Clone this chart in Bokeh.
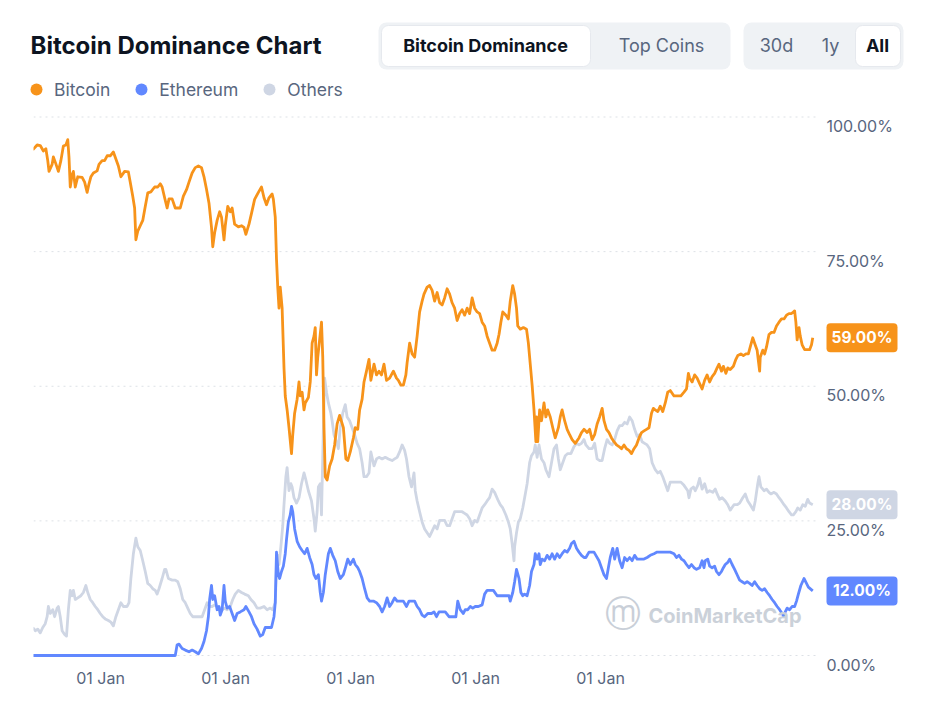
from bokeh.plotting import figure
from bokeh.models import (Range1d, FixedTicker, CustomJSTickFormatter, Label,
                          Legend, LegendItem)
from bokeh.core.properties import value
from bokeh.embed import file_html
from bokeh.resources import INLINE

# ---------------- data (decimal years, dominance in %) ----------------
btc_dates = [
    2013.30, 2013.37, 2013.42, 2013.47, 2013.51, 2013.54, 2013.56, 2013.61, 2013.63, 2013.67,
    2013.71, 2013.75, 2013.79, 2013.83, 2013.86, 2013.88, 2013.90, 2013.93, 2013.95, 2013.98,
    2014.02, 2014.09, 2014.13, 2014.17, 2014.20, 2014.23, 2014.27, 2014.33, 2014.36, 2014.41,
    2014.45, 2014.49, 2014.54, 2014.59, 2014.63, 2014.67, 2014.71, 2014.77, 2014.83, 2014.86,
    2014.90, 2014.93, 2014.95, 2014.98, 2015.02, 2015.06, 2015.10, 2015.14, 2015.19, 2015.25,
    2015.30, 2015.34, 2015.37, 2015.41, 2015.45, 2015.48, 2015.53, 2015.58, 2015.66, 2015.71,
    2015.76, 2015.80, 2015.85, 2015.90, 2015.95, 2016.00, 2016.04, 2016.08, 2016.12, 2016.16,
    2016.18, 2016.21, 2016.25, 2016.29, 2016.32, 2016.36, 2016.38, 2016.42, 2016.46, 2016.49,
    2016.53, 2016.59, 2016.64, 2016.68, 2016.71, 2016.76, 2016.80, 2016.85, 2016.91, 2016.96,
    2017.00, 2017.04, 2017.08, 2017.13, 2017.15, 2017.18, 2017.20, 2017.22, 2017.24, 2017.26,
    2017.29, 2017.32, 2017.34, 2017.37, 2017.40, 2017.44, 2017.46, 2017.49, 2017.53, 2017.56,
    2017.58, 2017.61, 2017.64, 2017.66, 2017.71, 2017.74, 2017.77, 2017.80, 2017.82, 2017.84,
    2017.86, 2017.89, 2017.92, 2017.94, 2017.96, 2017.98, 2018.01, 2018.05, 2018.09, 2018.13,
    2018.17, 2018.21, 2018.27, 2018.31, 2018.34, 2018.38, 2018.43, 2018.46, 2018.50, 2018.53,
    2018.57, 2018.60, 2018.64, 2018.68, 2018.71, 2018.76, 2018.80, 2018.84, 2018.88, 2018.92,
    2018.96, 2019.01, 2019.07, 2019.12, 2019.15, 2019.19, 2019.23, 2019.27, 2019.29, 2019.33,
    2019.37, 2019.41, 2019.45, 2019.49, 2019.53, 2019.56, 2019.61, 2019.65, 2019.69, 2019.73,
    2019.77, 2019.81, 2019.85, 2019.89, 2019.93, 2019.97, 2020.01, 2020.05, 2020.09, 2020.13,
    2020.17, 2020.21, 2020.25, 2020.29, 2020.33, 2020.37, 2020.41, 2020.45, 2020.49, 2020.53,
    2020.57, 2020.61, 2020.65, 2020.69, 2020.73, 2020.76, 2020.79, 2020.82, 2020.87, 2020.91,
    2020.94, 2020.98, 2021.01, 2021.04, 2021.06, 2021.10, 2021.15, 2021.20, 2021.23, 2021.26,
    2021.29, 2021.32, 2021.35, 2021.36, 2021.38, 2021.41, 2021.44, 2021.48, 2021.51, 2021.54,
    2021.58, 2021.62, 2021.66, 2021.71, 2021.74, 2021.77, 2021.81, 2021.85, 2021.89, 2021.93,
    2021.98, 2022.04, 2022.08, 2022.12, 2022.17, 2022.21, 2022.25, 2022.29, 2022.33, 2022.37,
    2022.41, 2022.44, 2022.48, 2022.52, 2022.56, 2022.60, 2022.64, 2022.68, 2022.72, 2022.76,
    2022.80, 2022.84, 2022.88, 2022.92, 2022.96, 2023.00, 2023.04, 2023.08, 2023.12, 2023.16,
    2023.20, 2023.23, 2023.26, 2023.30, 2023.34, 2023.38, 2023.42, 2023.46, 2023.50, 2023.56,
    2023.61, 2023.67, 2023.72, 2023.76, 2023.79, 2023.81, 2023.85, 2023.89, 2023.93, 2023.97,
    2024.01, 2024.05, 2024.09, 2024.13, 2024.17, 2024.21, 2024.25, 2024.28, 2024.32, 2024.35,
    2024.39, 2024.42, 2024.46, 2024.51, 2024.55, 2024.58, 2024.63, 2024.67, 2024.71, 2024.75,
    2024.78, 2024.82, 2024.85, 2024.89, 2024.91, 2024.93, 2024.94, 2024.98, 2025.01, 2025.04,
    2025.08, 2025.12, 2025.16, 2025.20, 2025.24, 2025.28, 2025.32, 2025.36, 2025.40, 2025.44,
    2025.47, 2025.49, 2025.51, 2025.53, 2025.56, 2025.58, 2025.61, 2025.65, 2025.69, 2025.73,
    2025.76, 2025.78,
]
btc_values = [
    93.9, 94.8, 94.7, 93.7, 94.1, 91.9, 89.9, 91.2, 92.6, 91.3,
    89.9, 91.9, 94.6, 94.8, 95.8, 92.5, 87.0, 89.3, 89.9, 87.0,
    88.9, 88.8, 87.9, 86.0, 87.6, 88.9, 89.6, 90.0, 91.2, 91.9,
    91.9, 92.8, 92.8, 93.5, 92.2, 90.9, 88.9, 89.9, 89.8, 87.9,
    85.3, 83.1, 77.2, 78.8, 79.8, 80.8, 83.4, 85.9, 86.1, 87.0,
    87.0, 87.6, 87.0, 85.0, 83.1, 84.8, 84.8, 83.1, 83.1, 85.3,
    86.5, 87.9, 89.6, 90.6, 90.9, 90.6, 88.9, 86.6, 84.0, 79.5,
    75.9, 78.5, 80.8, 82.4, 81.4, 77.2, 79.8, 83.4, 82.4, 83.1,
    80.1, 79.6, 79.8, 79.5, 78.2, 80.1, 82.1, 84.7, 86.0, 87.0,
    85.0, 83.7, 85.0, 85.7, 84.7, 81.4, 73.6, 68.4, 64.5, 68.4,
    64.5, 53.4, 48.2, 45.6, 42.3, 37.5, 41.0, 45.0, 47.6, 50.8,
    48.2, 48.9, 45.6, 46.9, 47.9, 50.8, 58.0, 59.3, 60.9, 52.1,
    55.4, 58.6, 61.9, 55.4, 42.3, 33.2, 32.6, 35.2, 36.5, 39.1,
    43.0, 44.6, 42.3, 36.5, 36.2, 37.8, 40.4, 42.3, 42.0, 45.6,
    47.6, 50.8, 52.8, 55.0, 51.1, 54.1, 52.1, 52.8, 52.1, 54.1,
    51.1, 51.5, 52.8, 51.5, 51.1, 50.2, 50.2, 52.1, 54.4, 58.0,
    56.0, 55.4, 59.3, 63.8, 65.8, 67.1, 68.4, 68.7, 67.8, 65.8,
    67.4, 65.5, 65.1, 66.4, 68.1, 67.1, 65.5, 64.5, 62.2, 63.5,
    64.2, 63.2, 64.5, 63.5, 66.4, 64.5, 63.8, 63.5, 61.9, 61.2,
    59.3, 58.0, 56.7, 56.7, 58.0, 59.6, 61.9, 63.8, 63.2, 62.5,
    65.8, 68.7, 67.1, 64.5, 61.2, 60.6, 60.9, 60.6, 58.0, 54.1,
    50.2, 45.6, 39.7, 44.3, 39.7, 45.6, 43.6, 46.9, 44.3, 45.6,
    44.3, 42.3, 40.4, 42.3, 44.3, 45.6, 43.6, 42.0, 41.0, 40.1,
    39.4, 40.4, 41.4, 42.0, 41.4, 42.0, 40.1, 41.0, 43.0, 44.3,
    45.9, 43.6, 42.0, 41.4, 40.4, 39.7, 39.1, 38.8, 38.4, 39.1,
    38.4, 38.1, 37.5, 38.4, 39.1, 40.4, 41.4, 41.7, 42.0, 42.3,
    45.0, 45.9, 45.6, 45.3, 46.3, 45.3, 46.9, 48.9, 49.2, 48.2,
    48.2, 48.2, 48.9, 49.5, 52.4, 51.5, 50.8, 52.1, 51.5, 50.5,
    49.5, 51.1, 52.1, 50.8, 51.8, 52.4, 53.4, 54.1, 52.8, 53.7,
    52.4, 53.4, 53.1, 53.7, 55.0, 55.7, 56.0, 55.7, 56.0, 56.0,
    57.3, 59.0, 58.0, 56.7, 54.7, 52.8, 55.4, 56.7, 56.0, 57.3,
    59.6, 60.0, 60.0, 61.2, 61.9, 62.5, 62.5, 63.2, 63.5, 63.5,
    63.8, 64.0, 61.9, 58.6, 60.9, 59.3, 57.7, 56.8, 56.8, 56.8,
    57.7, 59.0,
]

eth_dates = [
    2013.30, 2015.58, 2015.61, 2015.64, 2015.69, 2015.74, 2015.80, 2015.85, 2015.90, 2015.95,
    2016.00, 2016.04, 2016.08, 2016.11, 2016.13, 2016.16, 2016.18, 2016.21, 2016.23, 2016.25,
    2016.28, 2016.30, 2016.33, 2016.36, 2016.38, 2016.41, 2016.45, 2016.49, 2016.53, 2016.57,
    2016.62, 2016.68, 2016.71, 2016.76, 2016.80, 2016.84, 2016.89, 2016.94, 2016.98, 2017.02,
    2017.08, 2017.12, 2017.16, 2017.18, 2017.20, 2017.23, 2017.25, 2017.28, 2017.31, 2017.34,
    2017.36, 2017.39, 2017.42, 2017.44, 2017.46, 2017.49, 2017.53, 2017.57, 2017.61, 2017.65,
    2017.69, 2017.73, 2017.77, 2017.80, 2017.83, 2017.87, 2017.90, 2017.92, 2017.95, 2017.98,
    2018.03, 2018.06, 2018.10, 2018.14, 2018.18, 2018.22, 2018.27, 2018.31, 2018.34, 2018.38,
    2018.43, 2018.46, 2018.50, 2018.53, 2018.57, 2018.61, 2018.65, 2018.69, 2018.75, 2018.80,
    2018.85, 2018.89, 2018.93, 2018.97, 2019.01, 2019.05, 2019.09, 2019.13, 2019.18, 2019.23,
    2019.28, 2019.32, 2019.37, 2019.41, 2019.45, 2019.49, 2019.53, 2019.57, 2019.62, 2019.68,
    2019.72, 2019.76, 2019.80, 2019.85, 2019.90, 2019.96, 2020.01, 2020.07, 2020.10, 2020.14,
    2020.19, 2020.22, 2020.26, 2020.30, 2020.34, 2020.38, 2020.43, 2020.49, 2020.53, 2020.57,
    2020.62, 2020.67, 2020.73, 2020.76, 2020.81, 2020.86, 2020.92, 2020.94, 2020.98, 2021.01,
    2021.04, 2021.08, 2021.11, 2021.14, 2021.17, 2021.21, 2021.25, 2021.28, 2021.32, 2021.34,
    2021.37, 2021.40, 2021.42, 2021.45, 2021.49, 2021.53, 2021.57, 2021.61, 2021.65, 2021.69,
    2021.73, 2021.77, 2021.81, 2021.85, 2021.89, 2021.92, 2021.96, 2022.00, 2022.04, 2022.08,
    2022.12, 2022.15, 2022.20, 2022.24, 2022.28, 2022.31, 2022.36, 2022.40, 2022.44, 2022.48,
    2022.51, 2022.54, 2022.58, 2022.61, 2022.65, 2022.69, 2022.73, 2022.77, 2022.81, 2022.85,
    2022.89, 2022.93, 2022.97, 2023.02, 2023.08, 2023.13, 2023.18, 2023.24, 2023.29, 2023.34,
    2023.40, 2023.45, 2023.50, 2023.56, 2023.60, 2023.64, 2023.68, 2023.72, 2023.76, 2023.80,
    2023.84, 2023.88, 2023.92, 2023.97, 2024.01, 2024.04, 2024.06, 2024.10, 2024.13, 2024.17,
    2024.21, 2024.24, 2024.28, 2024.32, 2024.35, 2024.38, 2024.42, 2024.45, 2024.49, 2024.53,
    2024.57, 2024.61, 2024.65, 2024.69, 2024.73, 2024.77, 2024.81, 2024.85, 2024.89, 2024.93,
    2024.97, 2025.01, 2025.05, 2025.09, 2025.13, 2025.17, 2025.21, 2025.25, 2025.29, 2025.32,
    2025.34, 2025.37, 2025.41, 2025.45, 2025.49, 2025.52, 2025.55, 2025.59, 2025.64, 2025.68,
    2025.71, 2025.78,
]
eth_values = [
    0.0, 0.0, 2.0, 2.1, 1.3, 1.0, 0.7, 1.0, 0.7, 0.3,
    1.3, 2.6, 4.6, 7.2, 10.4, 13.0, 10.4, 11.1, 9.8, 8.5,
    9.1, 7.5, 8.5, 13.0, 10.1, 8.8, 9.1, 7.8, 6.5, 7.8,
    8.1, 8.5, 9.1, 8.1, 7.2, 5.9, 4.9, 3.6, 3.9, 5.2,
    5.2, 5.2, 7.2, 9.8, 19.2, 15.0, 14.3, 15.6, 16.6, 18.9,
    21.5, 24.8, 26.1, 27.7, 26.7, 23.5, 21.2, 20.2, 19.5, 18.9,
    19.9, 18.2, 16.9, 15.0, 14.3, 15.0, 11.7, 10.1, 11.7, 15.0,
    18.9, 19.9, 18.6, 17.6, 15.6, 14.3, 15.0, 16.6, 17.9, 16.9,
    17.9, 16.9, 16.3, 15.6, 14.3, 12.4, 10.7, 10.1, 10.1, 9.8,
    9.1, 8.1, 9.1, 10.7, 9.1, 9.8, 10.7, 10.1, 10.1, 10.1,
    9.1, 10.1, 10.1, 10.1, 9.1, 8.5, 7.5, 7.2, 7.8, 7.8,
    8.1, 7.2, 8.1, 8.1, 8.1, 7.2, 7.2, 7.2, 10.1, 8.5,
    7.8, 8.5, 8.5, 9.1, 8.8, 9.1, 9.1, 9.4, 11.4, 12.1,
    12.1, 12.1, 11.1, 11.1, 11.1, 11.1, 11.1, 10.1, 11.7, 13.7,
    16.0, 14.3, 11.7, 11.1, 11.4, 11.1, 13.0, 15.6, 16.9, 18.9,
    17.9, 18.9, 16.9, 17.9, 17.6, 18.6, 17.9, 18.9, 17.9, 18.9,
    18.2, 18.9, 19.5, 19.2, 19.9, 20.8, 21.2, 19.9, 19.2, 18.6,
    18.2, 18.2, 19.2, 19.2, 19.2, 18.6, 17.6, 16.3, 15.0, 14.3,
    16.3, 18.2, 19.9, 17.9, 19.9, 17.6, 16.3, 18.2, 17.6, 18.2,
    17.6, 18.6, 17.9, 17.9, 17.9, 18.2, 18.6, 18.9, 19.2, 19.2,
    19.2, 19.2, 19.2, 18.9, 18.2, 18.6, 17.9, 17.6, 16.9, 16.3,
    16.9, 16.3, 16.0, 16.3, 17.6, 16.3, 17.6, 17.9, 16.6, 16.3,
    16.6, 15.6, 15.0, 15.6, 16.3, 16.9, 17.3, 17.9, 16.9, 16.0,
    15.0, 14.0, 13.7, 13.4, 13.7, 13.4, 13.0, 13.7, 13.0, 12.4,
    12.1, 12.4, 11.7, 11.1, 10.4, 9.8, 9.1, 8.5, 7.8, 7.2,
    8.1, 8.8, 8.5, 9.1, 9.1, 10.1, 11.4, 13.0, 14.3, 13.4,
    12.7, 12.0,
]

others_dates = [
    2013.30, 2013.34, 2013.38, 2013.42, 2013.46, 2013.50, 2013.53, 2013.55, 2013.58, 2013.62,
    2013.65, 2013.69, 2013.71, 2013.74, 2013.77, 2013.81, 2013.84, 2013.87, 2013.90, 2013.93,
    2013.95, 2013.98, 2014.02, 2014.07, 2014.11, 2014.15, 2014.18, 2014.22, 2014.26, 2014.30,
    2014.34, 2014.38, 2014.42, 2014.46, 2014.51, 2014.55, 2014.59, 2014.63, 2014.67, 2014.71,
    2014.75, 2014.81, 2014.84, 2014.87, 2014.91, 2014.95, 2014.98, 2015.02, 2015.06, 2015.10,
    2015.14, 2015.18, 2015.22, 2015.26, 2015.29, 2015.32, 2015.37, 2015.41, 2015.43, 2015.47,
    2015.53, 2015.58, 2015.62, 2015.66, 2015.70, 2015.74, 2015.78, 2015.82, 2015.86, 2015.92,
    2015.97, 2016.01, 2016.05, 2016.09, 2016.13, 2016.17, 2016.21, 2016.25, 2016.29, 2016.33,
    2016.37, 2016.41, 2016.46, 2016.50, 2016.54, 2016.59, 2016.64, 2016.69, 2016.75, 2016.79,
    2016.84, 2016.89, 2016.94, 2017.00, 2017.05, 2017.10, 2017.14, 2017.18, 2017.20, 2017.22,
    2017.24, 2017.27, 2017.30, 2017.32, 2017.35, 2017.37, 2017.40, 2017.43, 2017.45, 2017.48,
    2017.52, 2017.56, 2017.60, 2017.64, 2017.67, 2017.71, 2017.76, 2017.80, 2017.82, 2017.85,
    2017.87, 2017.90, 2017.92, 2017.95, 2017.97, 2018.00, 2018.03, 2018.07, 2018.09, 2018.12,
    2018.16, 2018.19, 2018.22, 2018.26, 2018.30, 2018.33, 2018.37, 2018.41, 2018.45, 2018.49,
    2018.53, 2018.57, 2018.60, 2018.64, 2018.68, 2018.71, 2018.76, 2018.80, 2018.84, 2018.89,
    2018.94, 2018.99, 2019.05, 2019.09, 2019.13, 2019.17, 2019.21, 2019.25, 2019.28, 2019.32,
    2019.36, 2019.40, 2019.42, 2019.45, 2019.49, 2019.53, 2019.57, 2019.61, 2019.65, 2019.69,
    2019.73, 2019.77, 2019.81, 2019.85, 2019.89, 2019.93, 2019.97, 2020.01, 2020.05, 2020.09,
    2020.13, 2020.17, 2020.21, 2020.25, 2020.29, 2020.33, 2020.37, 2020.41, 2020.45, 2020.49,
    2020.53, 2020.57, 2020.61, 2020.65, 2020.69, 2020.75, 2020.78, 2020.82, 2020.87, 2020.91,
    2020.94, 2020.97, 2021.00, 2021.01, 2021.04, 2021.07, 2021.10, 2021.14, 2021.17, 2021.21,
    2021.25, 2021.28, 2021.32, 2021.34, 2021.37, 2021.40, 2021.44, 2021.48, 2021.51, 2021.56,
    2021.60, 2021.64, 2021.68, 2021.71, 2021.74, 2021.78, 2021.82, 2021.86, 2021.91, 2021.96,
    2022.00, 2022.04, 2022.08, 2022.12, 2022.15, 2022.20, 2022.25, 2022.29, 2022.33, 2022.37,
    2022.41, 2022.45, 2022.49, 2022.53, 2022.57, 2022.61, 2022.65, 2022.69, 2022.73, 2022.77,
    2022.81, 2022.85, 2022.89, 2022.93, 2022.97, 2023.01, 2023.05, 2023.09, 2023.13, 2023.17,
    2023.21, 2023.26, 2023.30, 2023.34, 2023.38, 2023.42, 2023.46, 2023.50, 2023.56, 2023.61,
    2023.67, 2023.72, 2023.78, 2023.80, 2023.83, 2023.87, 2023.90, 2023.94, 2023.97, 2024.01,
    2024.05, 2024.09, 2024.13, 2024.18, 2024.22, 2024.25, 2024.29, 2024.33, 2024.38, 2024.42,
    2024.46, 2024.52, 2024.57, 2024.61, 2024.66, 2024.70, 2024.74, 2024.78, 2024.83, 2024.86,
    2024.90, 2024.92, 2024.95, 2025.00, 2025.04, 2025.08, 2025.11, 2025.16, 2025.20, 2025.24,
    2025.28, 2025.32, 2025.36, 2025.40, 2025.44, 2025.47, 2025.51, 2025.54, 2025.58, 2025.62,
    2025.66, 2025.70, 2025.73, 2025.78,
]
others_values = [
    5.2, 4.6, 4.9, 4.2, 5.2, 5.9, 7.2, 9.1, 7.8, 8.5,
    7.2, 8.8, 9.1, 7.2, 4.6, 3.9, 3.6, 8.5, 12.1, 11.1,
    12.1, 10.4, 10.7, 11.1, 11.7, 13.0, 11.7, 10.4, 9.8, 9.1,
    8.5, 7.8, 7.2, 6.8, 6.5, 6.2, 5.5, 7.2, 8.5, 9.8,
    9.1, 9.1, 9.8, 14.3, 18.9, 21.8, 20.2, 19.5, 17.6, 15.6,
    13.4, 13.0, 12.4, 12.1, 11.4, 12.4, 14.3, 16.0, 16.0, 14.3,
    14.0, 14.0, 13.7, 12.4, 10.4, 9.8, 8.8, 7.8, 7.2, 7.2,
    7.2, 7.2, 8.5, 9.8, 9.1, 9.1, 9.4, 9.1, 8.8, 8.5,
    8.8, 8.5, 9.1, 10.4, 11.4, 12.1, 11.7, 11.4, 11.1, 10.4,
    9.8, 8.8, 8.8, 9.1, 8.5, 8.8, 8.5, 9.8, 16.3, 18.6,
    16.9, 20.2, 24.1, 28.0, 33.2, 34.9, 30.6, 31.9, 31.3, 29.3,
    28.3, 29.3, 31.9, 33.9, 32.6, 30.6, 28.7, 25.4, 23.1, 26.7,
    31.3, 31.9, 26.1, 42.3, 51.5, 48.9, 46.9, 45.0, 43.6, 41.0,
    39.7, 38.4, 42.3, 45.0, 46.6, 44.3, 43.6, 42.3, 41.0, 39.4,
    38.4, 35.8, 33.2, 33.2, 33.9, 37.8, 35.2, 36.5, 36.8, 36.5,
    36.8, 36.5, 36.2, 36.5, 36.8, 37.8, 39.1, 38.1, 36.5, 33.2,
    31.3, 33.9, 30.6, 28.7, 26.7, 24.8, 23.5, 22.8, 22.1, 23.1,
    24.1, 23.5, 25.1, 25.1, 25.1, 24.1, 24.1, 25.4, 26.7, 26.7,
    26.7, 26.7, 26.4, 26.1, 25.4, 24.1, 25.1, 24.8, 26.1, 27.4,
    28.0, 28.7, 29.3, 30.9, 30.3, 28.7, 28.0, 27.4, 26.1, 24.8,
    23.5, 20.8, 17.6, 20.2, 22.8, 24.8, 25.4, 27.4, 29.3, 31.9,
    35.8, 37.1, 37.8, 39.1, 36.8, 39.1, 36.5, 35.8, 34.5, 33.2,
    35.8, 38.4, 39.1, 36.5, 34.5, 35.8, 37.1, 37.5, 37.5, 38.8,
    39.4, 39.1, 39.4, 40.1, 39.1, 38.4, 38.4, 39.4, 36.5, 36.2,
    36.2, 38.4, 40.1, 39.4, 39.1, 40.1, 41.7, 42.7, 42.7, 43.3,
    43.0, 44.3, 43.6, 42.0, 40.7, 41.0, 39.7, 39.4, 39.1, 38.4,
    35.8, 34.5, 33.9, 34.2, 33.2, 31.9, 30.6, 32.2, 32.2, 32.2,
    32.2, 31.6, 30.6, 29.3, 30.9, 31.3, 30.6, 31.6, 32.9, 30.9,
    31.9, 30.3, 30.6, 30.3, 30.9, 30.0, 29.0, 29.3, 28.7, 28.0,
    27.0, 28.0, 28.0, 28.3, 29.3, 30.0, 28.7, 28.0, 27.0, 28.7,
    31.9, 33.2, 31.3, 30.6, 30.9, 30.3, 30.0, 30.3, 30.0, 29.3,
    28.7, 28.0, 27.4, 26.7, 26.1, 26.1, 26.7, 27.4, 27.0, 28.0,
    27.7, 29.0, 28.3, 28.0,
]

series_names = ["Bitcoin", "Ethereum", "Others"]
tick_years = [2014, 2016, 2018, 2020, 2022]
tick_label = "01 Jan"
pct_ticks = [0, 25, 50, 75, 100]
tabs = ["Bitcoin Dominance", "Top Coins"]
periods = ["30d", "1y", "All"]

# ---------------- style ----------------
BTC_COLOR = "#f7931a"
ETH_COLOR = "#6188ff"
OTH_COLOR = "#cfd6e4"
TXT_GRAY = "#58667e"
DARK = "#0d1421"
PILL_BG = "#eff2f5"
GRID = "#dde1e6"
FONT = "Inter"
NAN = float("nan")

# ---------------- header (title, toggle buttons, legend) ----------------
HEAD_H = 108
header = figure(width=936, height=HEAD_H, x_range=Range1d(0, 936), y_range=Range1d(HEAD_H, 0),
                toolbar_location=None, output_backend="svg",
                x_axis_type=None, y_axis_type=None, min_border=0,
                outline_line_color=None)
header.xgrid.visible = False
header.ygrid.visible = False

header.text(x=[30], y=[45], text=["Bitcoin Dominance Chart"], text_font=value(FONT),
            text_font_size="24px", text_font_style="bold", text_color=DARK,
            text_align="left", text_baseline="middle")

header.quad(left=[378, 743], right=[730, 903], top=[22, 22], bottom=[69, 69],
            fill_color=PILL_BG, line_color=None, border_radius=8)
header.quad(left=[381, 855], right=[590, 900], top=[25, 25], bottom=[66, 66],
            fill_color="white", line_color="#e6e9ee", line_width=1, border_radius=7)

header.text(x=[485], y=[45], text=tabs[:1], text_font=value(FONT),
            text_font_size="18px", text_font_style="bold", text_color=DARK,
            text_align="center", text_baseline="middle")
header.text(x=[661], y=[45], text=tabs[1:], text_font=value(FONT),
            text_font_size="18px", text_color=TXT_GRAY,
            text_align="center", text_baseline="middle")
header.text(x=[776, 830], y=[45, 45], text=periods[:2], text_font=value(FONT),
            text_font_size="18px", text_color=TXT_GRAY,
            text_align="center", text_baseline="middle")
header.text(x=[877], y=[45], text=periods[2:], text_font=value(FONT),
            text_font_size="18px", text_font_style="bold", text_color=DARK,
            text_align="center", text_baseline="middle")

# legend proxies (dot markers, not drawn in the plot area)
dots = [header.scatter(x=[NAN], y=[NAN], marker="circle", color=c, line_color=None)
        for c in (BTC_COLOR, ETH_COLOR, OTH_COLOR)]
legend = Legend(items=[LegendItem(label=n, renderers=[r]) for n, r in zip(series_names, dots)],
                orientation="horizontal", location=(21, 4),
                glyph_width=30, glyph_height=30, label_height=30, label_standoff=3,
                spacing=16, padding=0, margin=0, border_line_color=None,
                background_fill_alpha=0, label_text_font=FONT,
                label_text_font_size="17.5px", label_text_color=TXT_GRAY)
header.add_layout(legend)

# ---------------- chart ----------------
# layout of the chart area (window pixels)
FRAME_LEFT, FRAME_RIGHT, FRAME_TOP, FRAME_BOTTOM = 33, 936, 110, 674
PLOT_RIGHT = 815          # right end of the grid lines / data area
LABEL_LEFT = 826          # left edge of the percentage labels and badges
BADGE_RIGHT = 897
PX_PER_YEAR = 62.5
PX_PER_PCT = 5.385
ZERO_PX = 655

x_start = 2013.312
x_end = x_start + (FRAME_RIGHT - FRAME_LEFT) / PX_PER_YEAR
y_lo = (ZERO_PX - FRAME_BOTTOM) / PX_PER_PCT
y_hi = (ZERO_PX - FRAME_TOP) / PX_PER_PCT


def px_x(px):
    return x_start + (px - FRAME_LEFT) / PX_PER_YEAR


p = figure(width=936, height=726 - HEAD_H, x_range=Range1d(x_start, x_end),
           y_range=Range1d(y_lo, y_hi), toolbar_location=None, output_backend="svg",
           y_axis_location=None, min_border_left=FRAME_LEFT, min_border_right=0,
           min_border_top=FRAME_TOP - HEAD_H, min_border_bottom=726 - FRAME_BOTTOM,
           outline_line_color=None)
p.xgrid.visible = False
p.ygrid.visible = False

# dotted horizontal grid lines, stopping at the end of the data area
p.segment(x0=[x_start] * len(pct_ticks), x1=[px_x(PLOT_RIGHT)] * len(pct_ticks),
          y0=pct_ticks, y1=pct_ticks, line_color=GRID, line_dash="2 4", line_width=1)

# percentage labels just below each grid line
label_shift_y = 9 / PX_PER_PCT
p.text(x=[px_x(LABEL_LEFT)] * len(pct_ticks), y=[t - label_shift_y for t in pct_ticks],
       text=["%.2f%%" % t for t in pct_ticks], text_font=value(FONT),
       text_font_size="16px", text_color=TXT_GRAY, text_align="left",
       text_baseline="middle")

# x axis: "01 Jan" labels sit left-aligned at each January tick
label_shift_x = 24 / PX_PER_YEAR
xa = p.xaxis[0]
xa.ticker = FixedTicker(ticks=[y + label_shift_x for y in tick_years])
xa.formatter = CustomJSTickFormatter(code="return '%s'" % tick_label)
xa.axis_line_color = None
xa.major_tick_line_color = None
xa.minor_tick_line_color = None
xa.major_tick_out = 0
xa.major_tick_in = 0
xa.minor_tick_out = 0
xa.minor_tick_in = 0
xa.major_label_text_font = FONT
xa.major_label_text_font_size = "16px"
xa.major_label_text_color = TXT_GRAY
xa.major_label_standoff = -7

p.line(others_dates, others_values, line_color=OTH_COLOR, line_width=2.8, line_join="round")
p.line(eth_dates, eth_values, line_color=ETH_COLOR, line_width=2.8, line_join="round")
p.line(btc_dates, btc_values, line_color=BTC_COLOR, line_width=2.8, line_join="round")

# current value badges at the right
badge_vals = [btc_values[-1], others_values[-1], eth_values[-1]]
badge_cols = [BTC_COLOR, OTH_COLOR, ETH_COLOR]
half_h = 14.5 / PX_PER_PCT
p.quad(left=[px_x(LABEL_LEFT)] * 3, right=[px_x(BADGE_RIGHT)] * 3,
       top=[v + half_h for v in badge_vals], bottom=[v - half_h for v in badge_vals],
       fill_color=badge_cols, line_color=None, border_radius=4)
p.text(x=[px_x((LABEL_LEFT + BADGE_RIGHT) / 2)] * 3, y=badge_vals,
       text=["%.2f%%" % v for v in badge_vals], text_font=value(FONT),
       text_font_size="15.5px", text_font_style="bold", text_color="white",
       text_align="center", text_baseline="middle")

# watermark
wm_y = FRAME_BOTTOM - 613
p.add_layout(Label(x=589, y=wm_y, x_units="screen", y_units="screen", text="\u24dc",
                   text_font="DejaVu Sans", text_font_size="36px", text_color="#c9cfd8",
                   text_align="center", text_baseline="middle"))
p.add_layout(Label(x=615, y=wm_y - 2, x_units="screen", y_units="screen", text="CoinMarketCap",
                   text_font=FONT, text_font_size="20px", text_font_style="bold",
                   text_color="#cbd1d9", text_align="left", text_baseline="middle"))

open("out.html", "w").write(file_html([header, p], INLINE))
